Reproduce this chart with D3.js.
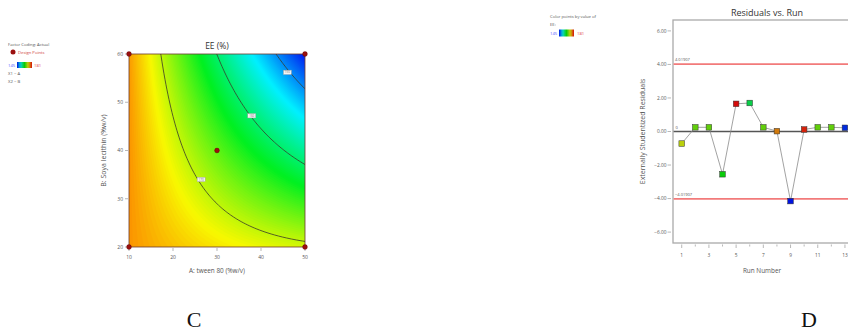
<!DOCTYPE html>
<html><head><meta charset="utf-8">
<script src="https://cdn.jsdelivr.net/npm/d3@7"></script>
<style>
body{margin:0;background:#fff}
svg{display:block}
text{font-family:"Open Sans","DejaVu Sans",sans-serif}
</style>
</head><body>
<svg id="fig" width="848" height="336"></svg>
<script>
// ---- Panel C: EE (%) response surface, factors in actual units ----
const factorA = [10, 50];              // A: tween 80 (%w/v)
const factorB = [20, 60];              // B: Soya lecithin (%w/v)
const ticksA = [10, 20, 30, 40, 50];
const ticksB = [20, 30, 40, 50, 60];
// quadratic model in coded units: 1, x1, x2, x1*x2, x1^2, x2^2
const eeCoef = [166.5, -9.01, -6.41, -6.28, 0.67, -0.13];
const contourLevels = [150, 160, 170];
const contourLabelAt = [[46, 56.2], [37.9, 47.2], [26.4, 34]];
const designPoints = [[10, 20], [50, 20], [10, 60], [50, 60], [30, 40]];
const eeRange = [145, 181];

// ---- Panel D: residuals vs run ----
const runs = [1, 2, 3, 4, 5, 6, 7, 8, 9, 10, 11, 12, 13];
const residuals = [-0.72, 0.25, 0.25, -2.55, 1.65, 1.70, 0.25, 0.02, -4.15, 0.12, 0.25, 0.25, 0.22];
const runEE = [171, 167, 167, 163, 181, 160, 167, 176, 145, 180, 167, 167, 146];
const residTicks = [-6, -4, -2, 0, 2, 4, 6];
const runTicks = [1, 3, 5, 7, 9, 11, 13];
const limit = 4.01907;

const svg = d3.select('#fig');
const grey = '#555';

// ===================== Panel C =====================
const C = {l: 129, r: 305, t: 54, b: 247};
const xA = d3.scaleLinear().domain(factorA).range([C.l, C.r]);
const yB = d3.scaleLinear().domain(factorB).range([C.b, C.t]);
const surfColor = d3.scaleLinear().domain([145, 154, 163, 172, 181])
  .range(["#0010f0", "#00f0ff", "#00f020", "#f8f800", "#ff2000"]).clamp(true);

const model = (a, b) => {
  const x1 = (a - 30) / 20, x2 = (b - 40) / 20;
  const f = [1, x1, x2, x1 * x2, x1 * x1, x2 * x2];
  return f.reduce((s, v, i) => s + v * eeCoef[i], 0);
};

const nx = 177, ny = 194;
const grid = new Array(nx * ny);
for (let j = 0; j < ny; j++)
  for (let i = 0; i < nx; i++)
    grid[i + j * nx] = model(xA.invert(C.l + (C.r - C.l) * i / (nx - 1)),
                             yB.invert(C.t + (C.b - C.t) * j / (ny - 1)));
const sx = (C.r - C.l) / (nx - 1), sy = (C.b - C.t) / (ny - 1);
const gridPath = d3.geoPath(d3.geoTransform({
  point(x, y) { this.stream.point(C.l + (x - 0.5) * sx, C.t + (y - 0.5) * sy); }
}));

svg.append('clipPath').attr('id', 'clipC').append('rect')
  .attr('x', C.l).attr('y', C.t).attr('width', C.r - C.l).attr('height', C.b - C.t);
const gC = svg.append('g').attr('clip-path', 'url(#clipC)');
gC.selectAll('path.band')
  .data(d3.contours().size([nx, ny]).thresholds(d3.range(130, 195, 0.25))(grid))
  .join('path').attr('class', 'band').attr('d', gridPath)
  .attr('fill', d => surfColor(d.value + 0.125));
gC.selectAll('path.iso')
  .data(d3.contours().size([nx, ny]).thresholds(contourLevels)(grid))
  .join('path').attr('class', 'iso').attr('d', gridPath)
  .attr('fill', 'none').attr('stroke', '#3a3a2a').attr('stroke-width', 0.8);

// contour value tags
contourLabelAt.forEach((p, i) => {
  const g = svg.append('g').attr('transform', `translate(${xA(p[0])},${yB(p[1])})`);
  g.append('rect').attr('x', -4).attr('y', -2.2).attr('width', 8).attr('height', 4.4)
    .attr('fill', '#f4f4f4').attr('stroke', '#999').attr('stroke-width', 0.4);
  g.append('text').attr('text-anchor', 'middle').attr('dy', '0.35em')
    .attr('font-size', 3).attr('fill', '#777').text(contourLevels[i]);
});

svg.append('rect').attr('x', C.l).attr('y', C.t).attr('width', C.r - C.l).attr('height', C.b - C.t)
  .attr('fill', 'none').attr('stroke', '#6b3a2e').attr('stroke-width', 0.8);

// axes
const axC = svg.append('g').attr('fill', grey).attr('font-size', 5);
axC.selectAll('line.xt').data(ticksA).join('line')
  .attr('x1', d => xA(d)).attr('x2', d => xA(d)).attr('y1', C.b + 1).attr('y2', C.b + 4)
  .attr('stroke', '#888').attr('stroke-width', 0.6);
axC.selectAll('text.xt').data(ticksA).join('text')
  .attr('x', d => xA(d)).attr('y', C.b + 12).attr('text-anchor', 'middle').text(d => d);
axC.selectAll('line.yt').data(ticksB).join('line')
  .attr('x1', C.l - 4).attr('x2', C.l - 1).attr('y1', d => yB(d)).attr('y2', d => yB(d))
  .attr('stroke', '#888').attr('stroke-width', 0.6);
axC.selectAll('text.yt').data(ticksB).join('text')
  .attr('x', C.l - 6).attr('y', d => yB(d)).attr('dy', '0.35em').attr('text-anchor', 'end').text(d => d);

svg.append('text').attr('x', (C.l + C.r) / 2).attr('y', C.t - 5).attr('text-anchor', 'middle')
  .attr('font-size', 8.5).attr('fill', '#333').text('EE (%)');
svg.append('text').attr('x', (C.l + C.r) / 2).attr('y', 273).attr('text-anchor', 'middle')
  .attr('font-size', 6.4).attr('fill', '#555').text('A: tween 80 (%w/v)');
svg.append('text').attr('transform', `translate(106,${(C.t + C.b) / 2}) rotate(-90)`)
  .attr('text-anchor', 'middle').attr('font-size', 7).attr('fill', '#555')
  .text('B: Soya lecithin (%w/v)');

// design points
svg.selectAll('circle.dp').data(designPoints).join('circle')
  .attr('cx', d => xA(d[0])).attr('cy', d => yB(d[1])).attr('r', 2.4)
  .attr('fill', '#9a0f0f').attr('stroke', '#5a0000').attr('stroke-width', 0.4);

// point colouring by EE value: blue -> green -> red around the hue wheel
const ptColor = d3.scaleLinear().domain([eeRange[0], (eeRange[0] + eeRange[1]) / 2, eeRange[1]])
  .range(["hsl(235,100%,44%)", "hsl(120,90%,42%)", "hsl(0,90%,44%)"])
  .interpolate(d3.interpolateHsl);
const defs = svg.append('defs');
const lg = defs.append('linearGradient').attr('id', 'gradEE');
d3.range(0, 1.001, 0.1).forEach(o => lg.append('stop').attr('offset', o)
  .attr('stop-color', ptColor(eeRange[0] + o * (eeRange[1] - eeRange[0]))));

// legend for C
const lgC = svg.append('g').attr('font-size', 4.2).attr('fill', '#555');
lgC.append('text').attr('x', 8).attr('y', 45.5).text('Factor Coding: Actual');
lgC.append('circle').attr('cx', 13).attr('cy', 52).attr('r', 2.5).attr('fill', '#9a0f0f');
lgC.append('text').attr('x', 18).attr('y', 53.5).attr('fill', '#d04040').text('Design Points');
lgC.append('text').attr('x', 8).attr('y', 66.5).attr('fill', '#5050ff').text(eeRange[0]);
lgC.append('rect').attr('x', 17).attr('y', 62).attr('width', 15).attr('height', 6).attr('fill', 'url(#gradEE)');
lgC.append('text').attr('x', 34).attr('y', 66.5).attr('fill', '#e04040').text(eeRange[1]);
lgC.append('text').attr('x', 8).attr('y', 74.5).text('X1 = A');
lgC.append('text').attr('x', 8).attr('y', 82.5).text('X2 = B');

// ===================== Panel D =====================
const D = {l: 673, r: 861, t: 20, b: 243};
const xR = d3.scaleLinear().domain([0.36, 14.18]).range([D.l, D.r]);
const yR = d3.scaleLinear().domain([-6.65, 6.65]).range([D.b, D.t]);

svg.append('text').attr('x', 767).attr('y', 16).attr('text-anchor', 'middle')
  .attr('font-size', 9).attr('fill', '#333').text('Residuals vs. Run');

svg.append('rect').attr('x', D.l).attr('y', D.t).attr('width', D.r - D.l).attr('height', D.b - D.t)
  .attr('fill', 'none').attr('stroke', '#aaa').attr('stroke-width', 1.3);

// limit lines and zero line
[limit, -limit].forEach(v => {
  svg.append('line').attr('x1', D.l + 0.6).attr('x2', D.r).attr('y1', yR(v)).attr('y2', yR(v))
    .attr('stroke', '#f27a7a').attr('stroke-width', 1.8);
  svg.append('text').attr('x', D.l + 2).attr('y', yR(v) - 3).attr('font-size', 4)
    .attr('fill', '#555').text(d3.format('.5f')(v));
});
svg.append('line').attr('x1', D.l + 0.6).attr('x2', D.r).attr('y1', yR(0)).attr('y2', yR(0))
  .attr('stroke', '#555').attr('stroke-width', 1.3);
svg.append('text').attr('x', D.l + 2.5).attr('y', yR(0) - 3).attr('font-size', 4)
  .attr('fill', '#555').text('0');

const axD = svg.append('g').attr('fill', grey).attr('font-size', 4.8);
axD.selectAll('line.yt').data(residTicks).join('line')
  .attr('x1', D.l - 5.5).attr('x2', D.l - 2).attr('y1', d => yR(d)).attr('y2', d => yR(d))
  .attr('stroke', '#888').attr('stroke-width', 0.6);
axD.selectAll('text.yt').data(residTicks).join('text')
  .attr('x', D.l - 6.5).attr('y', d => yR(d)).attr('dy', '0.35em').attr('text-anchor', 'end')
  .text(d => d3.format('.2f')(d));
axD.selectAll('line.xt').data(d3.range(1, 14)).join('line')
  .attr('x1', d => xR(d)).attr('x2', d => xR(d)).attr('y1', D.b + 1.5).attr('y2', d => D.b + (d % 2 ? 5 : 3.5))
  .attr('stroke', '#888').attr('stroke-width', 0.6);
axD.selectAll('text.xt').data(runTicks).join('text')
  .attr('x', d => xR(d)).attr('y', D.b + 13.5).attr('text-anchor', 'middle').text(d => d);

svg.append('text').attr('x', 762).attr('y', 273).attr('text-anchor', 'middle')
  .attr('font-size', 6.4).attr('fill', '#555').text('Run Number');
svg.append('text').attr('transform', `translate(645,${(D.t + D.b) / 2}) rotate(-90)`)
  .attr('text-anchor', 'middle').attr('font-size', 7).attr('fill', '#555')
  .text('Externally Studentized Residuals');

// residual trace
svg.append('path').datum(runs.map((r, i) => [r, residuals[i]]))
  .attr('fill', 'none').attr('stroke', '#8a8a8a').attr('stroke-width', 0.8)
  .attr('d', d3.line().x(d => xR(d[0])).y(d => yR(d[1])));
svg.selectAll('rect.pt').data(runs).join('rect')
  .attr('x', (r) => xR(r) - 2.8).attr('y', (r, i) => yR(residuals[i]) - 2.8)
  .attr('width', 5.6).attr('height', 5.6)
  .attr('fill', (r, i) => ptColor(runEE[i])).attr('stroke', '#333').attr('stroke-width', 0.5);

// legend for D
const lgD = svg.append('g').attr('font-size', 4.2).attr('fill', '#555');
lgD.append('text').attr('x', 550).attr('y', 17.5).text('Color points by value of');
lgD.append('text').attr('x', 550).attr('y', 25.5).text('EE:');
lgD.append('text').attr('x', 550).attr('y', 34.5).attr('fill', '#5050ff').text(eeRange[0]);
lgD.append('rect').attr('x', 559).attr('y', 29.5).attr('width', 15).attr('height', 7).attr('fill', 'url(#gradEE)');
lgD.append('text').attr('x', 577).attr('y', 34.5).attr('fill', '#e04040').text(eeRange[1]);

// panel letters
svg.append('text').attr('x', 194).attr('y', 327).attr('text-anchor', 'middle')
  .style('font-family', '"Liberation Serif","Times New Roman",serif').attr('font-size', 22).attr('fill', '#111').text('C');
svg.append('text').attr('x', 809).attr('y', 327).attr('text-anchor', 'middle')
  .style('font-family', '"Liberation Serif","Times New Roman",serif').attr('font-size', 22).attr('fill', '#111').text('D');
</script>
</body></html>
